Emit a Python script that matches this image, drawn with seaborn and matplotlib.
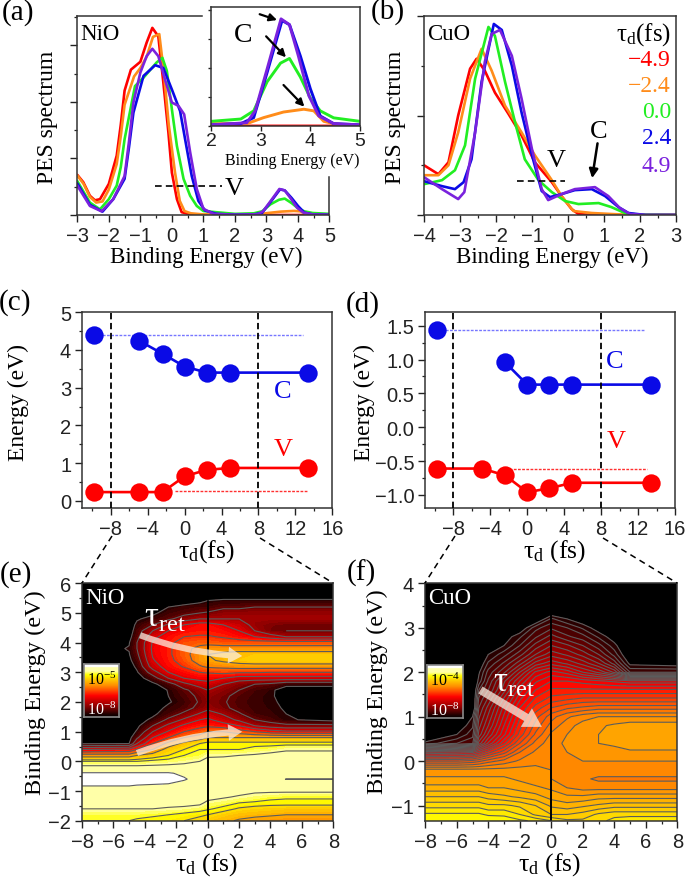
import numpy as np
import seaborn as sns
import matplotlib
matplotlib.use('Agg')
import matplotlib.pyplot as plt
from matplotlib.colors import LinearSegmentedColormap, Normalize
from matplotlib.lines import Line2D
from matplotlib.ticker import MultipleLocator

W, H = 685, 879

# colours of the delay series
delay_labels = ['\u22124.9', '\u22122.4', '0.0', '2.4', '4.9']
delay_colors = ['#ff0000', '#ff8c1a', '#22ee22', '#0a0ae6', '#7a22dd']

# (a) NiO spectra, each curve as (energy, intensity)
nio_red_x = [-3, -2.81, -2.6, -2.44, -2.28, -2, -1.75, -1.62, -1.5, -1.3, -1, -.8, -.62, -.43, -.27, -.11, 0, .16, .31, .58, 1, 5]
nio_red_y = [.71, .58, .34, .26, .28, .55, 1.05, 1.6, 2.2, 2.57, 2.71, 3.05, 3.31, 3.16, 2.34, 1.46, .75, .28, .05, .01, 0, 0]
nio_orange_x = [-3, -2.8, -2.6, -2.4, -2.2, -2, -1.75, -1.62, -1.5, -1.2, -1, -.8, -.6, -.4, -.25, -.1, .1, .25, .4, .6, 1, 2.72, 3.06, 3.46, 3.87, 4.07, 4.27, 4.47, 5]
nio_orange_y = [.7, .55, .32, .22, .24, .45, .9, 1.4, 1.95, 2.45, 2.6, 2.8, 3.15, 3.2, 2.5, 1.6, .75, .25, .07, .03, .01, .01, .036, .06, .072, .065, .02, .01, 0]
nio_green_x = [-3, -2.6, -2.28, -2, -1.75, -1.62, -1.5, -1.17, -.9, -.48, -.3, -.16, 0, .16, .37, .58, .79, 1, 2, 2.6, 2.86, 3.13, 3.4, 3.58, 3.8, 4, 4.2, 4.47, 5]
nio_green_y = [.6, .22, .1, .28, .52, .85, 1.34, 2.28, 2.43, 2.7, 2.78, 2.55, 1.87, 1.22, .64, .34, .16, .07, .02, .03, .065, .19, .27, .29, .21, .12, .065, .035, .02]
nio_blue_x = [-3, -2.6, -2.2, -1.86, -1.5, -1.36, -1.22, -.9, -.53, -.27, 0, .26, .42, .63, .84, 1.05, 1.42, 2, 2.6, 2.86, 3.13, 3.43, 3.58, 3.8, 4, 4.2, 4.47, 5]
nio_blue_y = [.56, .18, .06, .28, .64, 1.2, 1.81, 2.46, 2.65, 2.6, 2.22, 1.84, 1.34, .69, .25, .08, .02, .005, .01, .036, .23, .453, .435, .30, .16, .043, .01, .005]
nio_purple_x = [-3, -2.6, -2.23, -1.86, -1.5, -1.36, -1.22, -1, -.8, -.62, -.43, -.22, 0, .21, .39, .58, .79, 1, 1.32, 2, 2.72, 2.89, 3.13, 3.41, 3.58, 3.76, 3.97, 4.17, 4.47, 5]
nio_purple_y = [.52, .16, .065, .28, .69, 1.3, 1.99, 2.52, 2.81, 2.94, 2.81, 2.4, 1.99, 1.93, 1.78, 1.11, .46, .11, .02, .005, .014, .065, .245, .46, .435, .30, .13, .043, .01, .005]

# (b) CuO spectra
cuo_red_x = [-4, -3.6, -3.32, -3.05, -2.72, -2.54, -2.31, -2.03, -1.66, -1.29, -.92, -.45, -.18, .1, .29, .66, 3]
cuo_red_y = [.5, .41, .53, 1.0, 1.47, 1.57, 1.45, 1.23, 1.02, .8, .53, .33, .19, .06, .01, 0, 0]
cuo_orange_x = [-4, -3.6, -3.32, -3.05, -2.72, -2.4, -2.12, -1.75, -1.29, -.92, -.45, -.18, .15, .66, 1.2, 1.8, 3]
cuo_orange_y = [.4, .4, .5, .83, 1.37, 1.67, 1.45, 1.1, .83, .6, .35, .19, .04, .02, .01, 0, 0]
cuo_green_x = [-4, -3.5, -3.14, -2.86, -2.58, -2.21, -2.03, -1.75, -1.47, -1.2, -.82, -.45, -.08, .29, .85, 1.2, 1.58, 1.95, 3]
cuo_green_y = [.31, .35, .45, .7, 1.37, 1.89, 1.8, 1.34, .93, .56, .35, .23, .14, .11, .12, .08, .02, .003, 0]
cuo_blue_x = [-4, -3.5, -3.14, -2.9, -2.68, -2.4, -2.06, -1.84, -1.56, -1.29, -1, -.73, -.5, -.18, .19, .66, 1.03, 1.4, 1.68, 2.15, 3]
cuo_blue_y = [.34, .29, .26, .33, .56, 1.34, 1.92, 1.86, 1.5, 1.03, .6, .24, .18, .21, .25, .26, .19, .08, .02, 0, 0]
cuo_purple_x = [-4, -3.5, -3.05, -2.88, -2.58, -2.31, -2.12, -1.89, -1.56, -1.29, -1, -.73, -.55, -.18, .19, .75, 1.12, 1.44, 1.72, 2.15, 3]
cuo_purple_y = [.38, .26, .16, .23, .83, 1.54, 1.82, 1.86, 1.6, 1.17, .66, .26, .15, .21, .26, .28, .19, .07, .01, 0, 0]

# (c) NiO peak energies
delays = [-9.8, -4.9, -2.4, 0, 2.4, 4.9, 13.4]
nio_c = [4.4, 4.24, 3.9, 3.56, 3.4, 3.4, 3.4]
nio_v = [.23, .23, .23, .65, .82, .87, .87]
# (d) CuO peak energies (the -4.9 fs point has no C value)
cuo_c_delays = [-9.8, -2.4, 0, 2.4, 4.9, 13.4]
cuo_c = [1.43, .96, .63, .63, .63, .63]
cuo_v = [-.61, -.61, -.71, -.96, -.9, -.82, -.82]

# (e) NiO map, colour level per energy (rows) and delay (columns)
nio_map_tau = [-8, -5, -4.5, -3.5, -2.5, -1.5, -.5, 0, 1, 2, 3, 4, 5, 8]
nio_map_e = [5.6, 5.4, 5.2, 5.0, 4.8, 4.6, 4.4, 4.2, 4.0, 3.8, 3.6, 3.4, 3.2, 3.0, 2.8, 2.6, 2.4, 2.2, 2.0, 1.8,
             1.6, 1.4, 1.2, 1.0, .8, .6, .4, .2, 0, -.2, -.4, -.6, -.8, -1, -1.2, -1.4, -1.6, -1.8, -2]
nio_map = [
    [0, 0, 0, 0, 0, 0, 0, 0, 0, 0, 0, 0, 0, 0],
    [0, 0, 0, 0, 0, 0, .3, .55, .7, .7, .7, .7, .7, .7],
    [0, 0, 0, 0, .5, .8, 1, 1, 1.3, 1.3, 1.5, 1.5, 1.5, 1.5],
    [0, 0, 0, .3, .9, 1.2, 1.5, 1.6, 2, 2, 2.2, 2.2, 2.2, 2.2],
    [0, 0, .4, .8, 1.3, 2, 2.5, 2.5, 2.5, 2.5, 2.3, 2.3, 2.3, 2.3],
    [0, 0, .7, 1.5, 2.7, 3.5, 4, 4, 3.5, 3, 2.2, 1.8, 1.6, 1.6],
    [0, 0, 1, 2.5, 3.5, 4, 4.2, 4.2, 4, 3.5, 2.5, 1.7, 1.5, 1.5],
    [0, .2, 1.2, 3.2, 4, 4.5, 4.6, 4.6, 4.4, 4, 3.5, 3, 2.5, 2.5],
    [0, .45, 1.5, 3.6, 4.2, 5, 5.2, 5.2, 5, 5, 5, 5, 5, 5],
    [0, .55, 1.5, 3.7, 4.3, 5.2, 5.8, 6, 6, 6, 6, 6, 6, 6],
    [0, .45, 1.3, 3.6, 4.3, 5.2, 6, 6.5, 6.8, 7, 7, 7, 7, 7],
    [0, .3, 1, 3.4, 4.2, 5, 6, 6.3, 6.7, 7, 7.2, 7.2, 7.2, 7.2],
    [0, .1, .7, 3, 4, 4.6, 5.4, 5.7, 5.8, 6, 6, 6, 6, 6],
    [0, 0, .4, 2, 3.5, 4, 4.5, 4.6, 4.8, 4.6, 4.6, 4.5, 4.5, 4.5],
    [0, 0, .1, 1, 2.5, 3.5, 3.8, 3.8, 3.5, 3, 3, 3, 3, 3],
    [0, 0, 0, .3, 1, 2.2, 3, 3.2, 2.5, 1.9, 1.5, 1.3, .8, .8],
    [0, 0, 0, 0, .55, 1.3, 2, 2.5, 2, 1.5, 1, .7, 0, 0],
    [0, 0, 0, 0, .5, 1.1, 1.7, 2.1, 1.7, 1.2, .9, .6, .2, 0],
    [0, 0, 0, 0, .4, .9, 1.6, 2, 1.6, 1.1, .85, .65, .3, 0],
    [0, 0, 0, .1, .7, 1.1, 1.8, 2.2, 1.7, 1.2, .9, .7, .4, 0],
    [0, 0, 0, .3, 1, 1.7, 2.6, 3, 2.4, 1.6, 1, .8, .5, 0],
    [0, 0, .1, .7, 1.7, 2.7, 3.5, 3.7, 3, 2.3, 1.5, 1.1, .6, .2],
    [0, 0, .3, 1.5, 2.8, 3.7, 4.2, 4.3, 4, 3.5, 2.5, 2, 1.8, 1.8],
    [0, .1, .6, 2.5, 3.6, 4.5, 5, 5.5, 5.5, 5, 4.5, 4, 3.7, 3.7],
    [0, .2, 1.3, 3.5, 4.5, 5.5, 6, 6.5, 6.5, 6.5, 6.5, 6.5, 6.5, 6.5],
    [.4, .5, 2.5, 4.5, 5.8, 6.8, 7.5, 7.8, 7.8, 7.8, 7.8, 7.8, 7.8, 7.8],
    [3.5, 3.7, 4.5, 5.5, 7, 7.5, 8, 8, 8, 8, 8.2, 8.3, 8.6, 8.6],
    [6, 6, 6.5, 7, 7.5, 8, 8.2, 8.6, 8.6, 8.7, 8.8, 9, 9, 9],
    [8, 8, 8, 8.2, 8.3, 8.5, 8.7, 8.9, 9, 9, 9, 9, 9, 9],
    [8.95, 8.95, 8.95, 8.95, 9, 9, 9, 9, 9, 9, 9, 9, 9, 9],
    [9.55, 9.55, 9.55, 9.55, 9.55, 9.4, 9.2, 9.1, 9.1, 9.1, 9.1, 9.1, 9.1, 9.1],
    [9.9, 9.9, 9.9, 9.9, 9.85, 9.55, 9.3, 9.2, 9.2, 9.2, 9.2, 9.3, 9.51, 9.51],
    [9.55, 9.55, 9.5, 9.45, 9.4, 9.3, 9.2, 9.2, 9.1, 9.1, 9.1, 9.1, 9.1, 9.1],
    [9.2, 9.2, 9.2, 9.2, 9.2, 9.1, 9.1, 9.1, 9, 9, 8.85, 8.85, 8.85, 8.85],
    [9, 9, 9, 9, 9, 9, 9, 9, 8.8, 8.6, 8.4, 8.2, 8.1, 8.1],
    [9, 9, 9, 9, 9, 9, 8.9, 8.5, 8.3, 8, 7.9, 7.8, 7.8, 7.8],
    [8.7, 8.7, 8.7, 8.7, 8.6, 8.5, 8.3, 8.1, 7.8, 7.4, 7.2, 7.1, 7, 7],
    [8.2, 8.2, 8.2, 8.1, 8, 7.8, 7.6, 7.5, 7.1, 6.8, 6.7, 6.6, 6.5, 6.5],
    [8, 8, 7.9, 7.8, 7.7, 7.5, 7.3, 7, 6.7, 6.4, 6.2, 6.1, 6, 6],
]

# (f) CuO map
cuo_map_tau = [-8, -6, -5, -4.6, -4, -3, -2, -1, 0, 1, 2, 3, 4, 5, 8]
cuo_map_e = [3.4, 3.2, 3.0, 2.8, 2.6, 2.4, 2.2, 2.0, 1.8, 1.6, 1.4, 1.2, 1.0, .8, .6, .4, .2, 0,
             -.2, -.4, -.6, -.8, -1.0, -1.2, -1.34]
cuo_map = [
    [0, 0, 0, 0, 0, 0, 0, 0, 0, 0, 0, 0, 0, 0, 0],
    [0, 0, 0, 0, 0, 0, 0, .1, .8, .5, .2, 0, 0, 0, 0],
    [0, 0, 0, 0, 0, 0, .2, .9, 1.2, 1, .7, .3, 0, 0, 0],
    [0, 0, 0, 0, 0, .3, .7, 1.2, 1.6, 1.3, 1.1, .7, .3, 0, 0],
    [0, 0, 0, 0, .1, .5, 1, 1.6, 2, 1.8, 1.5, 1.1, .6, 0, 0],
    [0, 0, 0, 0, .5, .9, 1.4, 2, 2.4, 2.2, 1.9, 1.5, .9, .1, 0],
    [0, 0, 0, .2, .8, 1.3, 1.9, 2.6, 2.9, 2.7, 2.4, 2, 1.4, .4, .3],
    [0, 0, 0, .45, 1.1, 1.7, 2.5, 3.3, 3.6, 3.4, 3, 2.7, 2.2, 1, 1],
    [0, 0, 0, .6, 1.3, 2.2, 3, 3.7, 4, 4, 3.9, 3.8, 3.7, 3.6, 3.6],
    [0, 0, 0, 1, 1.5, 2.4, 3.4, 4, 4.3, 4.3, 4.3, 4.3, 4.3, 4.3, 4.3],
    [0, 0, 0, 1.3, 1.8, 2.8, 3.7, 4.3, 4.6, 4.7, 4.8, 4.8, 4.8, 4.8, 4.8],
    [0, 0, 0, 1.5, 2.1, 3.1, 4, 4.6, 5, 5.2, 5.3, 5.4, 5.4, 5.4, 5.4],
    [0, 0, .5, 1.7, 2.3, 3.3, 4.2, 4.9, 5.4, 5.7, 5.9, 6, 6, 6, 6],
    [0, .2, .7, 1.9, 2.5, 3.5, 4.4, 5.1, 5.6, 5.9, 6.1, 6.2, 6.3, 6.4, 6.4],
    [0, .5, .9, 2.1, 2.8, 3.7, 4.6, 5.3, 5.8, 6, 6.15, 6.25, 6.4, 6.5, 6.5],
    [.6, 1, 1.2, 2.6, 3.3, 4.2, 5, 5.6, 5.9, 6.05, 6.15, 6.25, 6.3, 6.4, 6.4],
    [3.5, 3.6, 3.7, 4, 4.4, 4.9, 5.5, 5.8, 5.95, 6, 6.05, 6.1, 6.15, 6.2, 6.2],
    [5, 5, 5.1, 5.2, 5.4, 5.6, 5.8, 5.95, 6, 6, 6, 6, 6, 6, 6],
    [6.1, 6.1, 6.1, 6.1, 6.1, 6.1, 6.1, 6.05, 6, 6, 5.9, 5.9, 5.9, 5.9, 5.9],
    [6.3, 6.3, 6.3, 6.3, 6.3, 6.3, 6.2, 6.1, 6, 5.9, 5.8, 5.7, 5.7, 5.7, 5.7],
    [6.6, 6.6, 6.6, 6.6, 6.5, 6.5, 6.4, 6.3, 6.2, 6, 5.9, 5.9, 5.9, 5.9, 5.9],
    [7, 7, 7, 7, 6.9, 6.8, 6.7, 6.6, 6.4, 6.3, 6.3, 6.4, 6.4, 6.4, 6.4],
    [7.4, 7.4, 7.4, 7.4, 7.3, 7.3, 7.2, 7, 6.7, 6.6, 6.7, 6.8, 6.9, 6.9, 6.9],
    [7.8, 7.8, 7.8, 7.8, 7.7, 7.7, 7.5, 7.2, 7, 7, 7.1, 7.3, 7.4, 7.4, 7.4],
    [8, 8, 8, 8, 8, 7.9, 7.8, 7.7, 7.5, 7.3, 7.3, 7.4, 7.6, 7.7, 7.7],
]

sns.set_theme(style='ticks')
plt.rcParams['font.family'] = ['Liberation Sans', 'DejaVu Sans']
plt.rcParams['mathtext.fontset'] = 'custom'
plt.rcParams['mathtext.rm'] = 'Liberation Serif'
plt.rcParams['mathtext.it'] = 'Liberation Serif:italic'
plt.rcParams['mathtext.bf'] = 'Liberation Serif:bold'
plt.rcParams['mathtext.default'] = 'rm'
plt.rcParams['axes.edgecolor'] = '#333333'
plt.rcParams['axes.linewidth'] = 1.1
plt.rcParams['xtick.color'] = '#222222'
plt.rcParams['ytick.color'] = '#222222'

fig = plt.figure(figsize=(W / 100, H / 100), dpi=100)
SERIF = ['Liberation Serif', 'DejaVu Serif']
TAU = r'$\tau_{d}$'


def axes_px(left, top, right, bottom):
    return fig.add_axes([left / W, 1 - bottom / H, (right - left) / W, (bottom - top) / H])


def label(px, py, text, size=15.5, color='black', rotation=0, family=SERIF, ha='center'):
    fig.text(px / W, 1 - py / H, text, fontsize=size, color=color, rotation=rotation,
             family=family, ha=ha, va='center')


def style_ticks(ax, xmajor, xminor, ymajor, yminor, labelsize=14.5):
    ax.xaxis.set_major_locator(MultipleLocator(xmajor))
    ax.xaxis.set_minor_locator(MultipleLocator(xminor))
    ax.yaxis.set_major_locator(MultipleLocator(ymajor))
    ax.yaxis.set_minor_locator(MultipleLocator(yminor))
    ax.tick_params(which='major', direction='out', length=5, width=1, labelsize=labelsize, pad=3)
    ax.tick_params(which='minor', direction='out', length=2.5, width=.9, left=True, bottom=True)
    ax.set_xlabel('')
    ax.set_ylabel('')


def draw_curves(ax, curves, lw=1.9):
    for (x, y), c in zip(curves, delay_colors):
        sns.lineplot(x=x, y=y, color=c, lw=lw, sort=False, estimator=None, ax=ax, legend=False,
                     solid_joinstyle='round')


def arrow(ax, start, end, lw=1.6, scale=11):
    ax.annotate('', xy=end, xytext=start,
                arrowprops=dict(arrowstyle='-|>', color='black', lw=lw, mutation_scale=scale,
                                shrinkA=0, shrinkB=0))


nio_curves = [(nio_red_x, nio_red_y), (nio_orange_x, nio_orange_y), (nio_green_x, nio_green_y),
              (nio_blue_x, nio_blue_y), (nio_purple_x, nio_purple_y)]
cuo_curves = [(cuo_red_x, cuo_red_y), (cuo_orange_x, cuo_orange_y), (cuo_green_x, cuo_green_y),
              (cuo_blue_x, cuo_blue_y), (cuo_purple_x, cuo_purple_y)]

# panel a
ax = axes_px(77.3, 17, 329.5, 216)
draw_curves(ax, nio_curves)
ax.set_xlim(-3, 5)
ax.set_ylim(0, 3.52)
style_ticks(ax, 1, .5, 1, .5)
ax.set_yticklabels([])
ax.spines['top'].set_bounds(-3, .95)
ax.spines['right'].set_bounds(0, .68)
ax.plot([-.53, 1.58], [.51, .51], color='black', ls=(0, (4, 2.5)), lw=1.2)
label(234, 189, 'V', 19)
label(100, 34, 'NiO', 16.5)
label(48, 117, 'PES spectrum', 17, rotation=90)
label(206, 257, 'Binding Energy (eV)', 16.5)

# inset of a
ins = axes_px(211, 8, 360, 127)
draw_curves(ins, nio_curves, lw=2.1)
ins.set_xlim(2, 5)
ins.set_ylim(0, .511)
style_ticks(ins, 1, 1, .25, .125, labelsize=14)
ins.set_yticklabels([])
ins.tick_params(which='both', length=2.5)
ins.tick_params(axis='x', which='major', length=3.5, pad=1)
arrow(ins, (2.98, .48), (3.33, .455))
arrow(ins, (3.11, .385), (3.51, .295))
arrow(ins, (3.46, .176), (3.88, .083))
label(243, 36, 'C', 20)
label(292, 161, 'Binding Energy (eV)', 11.5)

# panel b
ax = axes_px(424, 17, 676, 216)
draw_curves(ax, cuo_curves)
ax.set_xlim(-4, 3)
ax.set_ylim(0, 2)
style_ticks(ax, 1, .5, 1, .5)
ax.set_yticklabels([])
sns.despine(ax=ax, top=False, right=False)
ax.plot([-1.41, -.08], [.346, .346], color='black', ls=(0, (4, 2.5)), lw=1.2)
arrow(ax, (.82, .72), (.67, .37), lw=1.8, scale=13)
label(556, 161, 'V', 19)
label(599, 132, 'C', 19)
label(449, 35, 'CuO', 16.5)
label(395, 117, 'PES spectrum', 17, rotation=90)
label(552, 257, 'Binding Energy (eV)', 16.5)
label(671, 35, TAU + '(fs)', 18, ha='right')
for i, (text, c) in enumerate(zip(delay_labels, delay_colors)):
    label(671, [60, 87, 112, 139, 166][i], text, 17, color=c, ha='right')

# panel c
ax = axes_px(82.3, 313.3, 332.3, 509.3)
sns.lineplot(x=delays[1:], y=nio_c[1:], color='#0a0ae6', lw=1.9, sort=False, estimator=None, ax=ax)
sns.lineplot(x=delays, y=nio_v, color='#ff0000', lw=1.9, sort=False, estimator=None, ax=ax)
ax.plot([-9.8, 12.8], [4.4, 4.4], color='#7777ff', ls=(0, (2, 1)), lw=1)
ax.plot([-1, 13.4], [.25, .25], color='#ff3030', ls=(0, (2, 1)), lw=1)
sns.scatterplot(x=delays, y=nio_c, color='#0a0ae6', s=175, linewidth=0, ax=ax, zorder=3)
sns.scatterplot(x=delays, y=nio_v, color='#ff0000', s=175, linewidth=0, ax=ax, zorder=3)
for t in [-8, 8]:
    ax.axvline(t, color='black', ls=(0, (3.5, 2)), lw=1.3, zorder=4)
ax.set_xlim(-11.1, 16)
ax.set_ylim(-.2, 5)
style_ticks(ax, 4, 2, 1, .5)
sns.despine(ax=ax, top=False, right=False)
label(283, 392, 'C', 19, color='#0a0ae6')
label(283, 450, 'V', 19, color='#ff0000')
label(18, 403, 'Energy (eV)', 17, rotation=90)
label(206, 552, TAU + '(fs)', 18.5)

# panel d
ax = axes_px(425.3, 312.7, 675, 509.3)
sns.lineplot(x=cuo_c_delays[1:], y=cuo_c[1:], color='#0a0ae6', lw=1.9, sort=False, estimator=None, ax=ax)
sns.lineplot(x=delays, y=cuo_v, color='#ff0000', lw=1.9, sort=False, estimator=None, ax=ax)
ax.plot([-9.8, 12.8], [1.43, 1.43], color='#7777ff', ls=(0, (2, 1)), lw=1)
ax.plot([-2.4, 13], [-.62, -.62], color='#ff3030', ls=(0, (2, 1)), lw=1)
sns.scatterplot(x=cuo_c_delays, y=cuo_c, color='#0a0ae6', s=175, linewidth=0, ax=ax, zorder=3)
sns.scatterplot(x=delays, y=cuo_v, color='#ff0000', s=175, linewidth=0, ax=ax, zorder=3)
for t in [-8, 8]:
    ax.axvline(t, color='black', ls=(0, (3.5, 2)), lw=1.3, zorder=4)
ax.set_xlim(-11.03, 16)
ax.set_ylim(-1.197, 1.707)
style_ticks(ax, 4, 2, .5, .25)
sns.despine(ax=ax, top=False, right=False)
label(615, 362, 'C', 19, color='#0a0ae6')
label(616, 442, 'V', 19, color='#ff0000')
label(364, 403, 'Energy (eV)', 17, rotation=90)
label(555, 552, TAU + ' (fs)', 18.5)

# the intensity maps
map_cmap = LinearSegmentedColormap.from_list('pes', [
    (0, '#000000'), (.05, '#200000'), (.1, '#450000'), (.2, '#8c0000'), (.3, '#c40000'), (.4, '#ff0000'),
    (.5, '#ff4a00'), (.6, '#ff9000'), (.7, '#ffc400'), (.8, '#ffff00'), (.87, '#ffffa8'), (.945, '#ffffa8'),
    (.95, '#ffffff'), (1, '#ffffff')])
map_norm = Normalize(0, 10)
fill_levels = [-1] + [.5 + .25 * i for i in range(39)]
nio_lines = [.5, 1.5, 2.5, 3.5, 4.5, 5.5, 6.5, 7.5, 8, 8.7, 9.5]
cuo_lines = [.5 + .25 * i for i in range(31)]


def draw_map(ax, tau, energy, level, lines):
    ax.set_facecolor('black')
    ax.contourf(tau, energy, level, levels=fill_levels, cmap=map_cmap, norm=map_norm)
    ax.contour(tau, energy, level, levels=lines, colors='#5c5c5c', linewidths=.8)
    ax.set_xlim(-8, 8)
    ax.tick_params(which='both', top=False, right=False)


def glow_arrow(ax, start, end, rad=0.0, scale=10):
    ax.annotate('', xy=end, xytext=start,
                arrowprops=dict(arrowstyle='simple,head_length=1,head_width=1.2,tail_width=0.45',
                                color='#fbeee0', alpha=.75, lw=0, mutation_scale=scale, shrinkA=0, shrinkB=0,
                                connectionstyle=f'arc3,rad={rad}'))


def map_bar(left, top, right, bottom, low, high):
    bar = axes_px(left, top, right, bottom)
    bar.imshow([[lv] for lv in range(100, -1, -1)], aspect='auto', cmap=map_cmap, vmin=0, vmax=100,
               extent=(0, 1, 0, 1))
    bar.set_xticks([])
    bar.set_yticks([])
    for s in bar.spines.values():
        s.set_color('#8a8a8a')
        s.set_linewidth(1.2)
    bar.text(.5, .72, high, transform=bar.transAxes, ha='center', va='center', fontsize=11.5, color='black')
    bar.text(.5, .17, low, transform=bar.transAxes, ha='center', va='center', fontsize=11.5, color='white')


# panel e
ax = axes_px(82, 584.3, 333.3, 821.7)
draw_map(ax, nio_map_tau, nio_map_e, nio_map, nio_lines)
ax.plot([0, 0], [-2, 5.4], color='black', lw=1.4)
ax.set_ylim(-2, 6)
style_ticks(ax, 2, 1, 1, .5)
glow_arrow(ax, (-4.3, 4.25), (2.2, 3.55), rad=.08)
glow_arrow(ax, (-4.5, .28), (2.2, 1.0), rad=-.08)
label(105, 599, 'NiO', 16.5, color='white')
label(165, 618, r'$\tau_{ret}$', 25, color='white')
label(35, 693, 'Binding Energy (eV)', 17.5, rotation=90)
label(207, 865, TAU + ' (fs)', 18.5)
map_bar(84, 665, 119, 718, r'$10^{-8}$', r'$10^{-5}$')

# panel f
ax = axes_px(425.3, 584.3, 677.3, 821.7)
draw_map(ax, cuo_map_tau, cuo_map_e, cuo_map, cuo_lines)
ax.plot([0, 0], [-1.34, 3.3], color='black', lw=1.4)
ax.set_ylim(-1.34, 4)
style_ticks(ax, 2, 1, 1, .5)
glow_arrow(ax, (-4.5, 1.6), (-.6, .77), scale=13)
label(450, 599, 'CuO', 16.5, color='white')
label(514, 683, r'$\tau_{ret}$', 25, color='white')
label(377, 692, 'Binding Energy (eV)', 17.5, rotation=90)
label(550, 865, TAU + ' (fs)', 18.5)
map_bar(427, 666, 463, 719, r'$10^{-8}$', r'$10^{-4}$')

# panel letters
for px, py, text in [(18, 13, '(a)'), (388, 12, '(b)'), (15, 303, '(c)'),
                     (363, 305, '(d)'), (16, 575, '(e)'), (361, 573, '(f)')]:
    label(px, py, text, 21)

# dashed guides from the energy panels to the maps
for (x0, y0), (x1, y1) in [((112, 537), (82, 584)), ((260, 539), (333, 584)),
                           ((455, 537), (425, 584)), ((603, 539), (677, 584))]:
    fig.add_artist(Line2D([x0 / W, x1 / W], [1 - y0 / H, 1 - y1 / H], color='black',
                          ls=(0, (4, 3)), lw=1.1))

fig.savefig('out.png', dpi=100)
